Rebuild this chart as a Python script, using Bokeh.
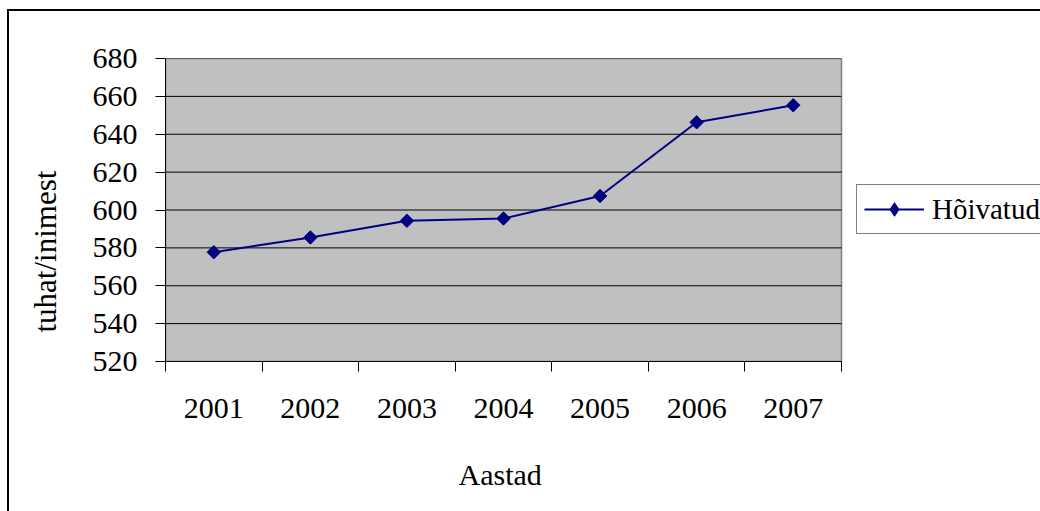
import math
from bokeh.plotting import figure
from bokeh.models import (Range1d, FixedTicker, Title, Legend, LegendItem, InlineStyleSheet)
from bokeh.embed import file_html
from bokeh.resources import INLINE

# Employed persons (thousands), Estonia
years = ["2001", "2002", "2003", "2004", "2005", "2006", "2007"]
employed = [577.7, 585.5, 594.3, 595.5, 607.4, 646.3, 655.3]
y_ticks = [520, 540, 560, 580, 600, 620, 640, 660, 680]
series_name = "Hõivatud"
x_title = "Aastad"
y_title = "tuhat/inimest"

FONT = "Liberation Serif"
FS = "30px"
NAVY = "#000080"
GREY = "#C0C0C0"

W, H = 1040, 511
LEFT, TOP, BOTTOM = 165, 58, 150
PLOT_W = 676          # width of the shaded plotting area in pixels

n = len(years)
# each year sits in the middle of its own unit-wide slot
xs = [i + 0.5 for i in range(n)]
# the frame runs to the right edge so the legend can sit beside the plot area
x_end = n * (W - LEFT) / PLOT_W

# thin black frame around the whole chart (left and top edges in view)
frame_css = InlineStyleSheet(css="""
:host::after {
  content: "";
  position: absolute;
  left: 7px;
  top: 9px;
  width: 1033px;
  height: 502px;
  box-sizing: border-box;
  border-left: 2px solid black;
  border-top: 2px solid black;
  pointer-events: none;
  z-index: 10;
}
""")

p = figure(width=W, height=H, output_backend="svg", toolbar_location=None,
           x_range=Range1d(0, x_end), y_range=Range1d(y_ticks[0], y_ticks[-1]),
           min_border_left=LEFT, min_border_right=0, min_border_top=TOP,
           min_border_bottom=BOTTOM, stylesheets=[frame_css])

p.background_fill_color = "white"
p.border_fill_color = "white"
p.outline_line_color = None

# shaded plotting area with grey edge
p.quad(left=0, right=n, bottom=y_ticks[0], top=y_ticks[-1],
       fill_color=GREY, line_color="#808080", line_width=1.5)
# horizontal gridlines across the plotting area only
p.segment(x0=[0] * len(y_ticks), x1=[n] * len(y_ticks), y0=y_ticks, y1=y_ticks,
          line_color="black", line_width=1)

# y axis
p.yaxis.ticker = FixedTicker(ticks=y_ticks)
p.yaxis.major_tick_out = 10
p.yaxis.major_tick_in = 0
p.yaxis.minor_tick_out = 0
p.yaxis.minor_tick_in = 0
p.yaxis.major_label_standoff = 18
p.yaxis.major_label_text_font = FONT
p.yaxis.major_label_text_font_size = FS
p.yaxis.major_label_text_color = "black"
p.yaxis.axis_line_color = "black"
p.yaxis.major_tick_line_color = "black"

# x axis: labels centred in slots, tick marks on slot boundaries
p.xaxis.bounds = (0, n)
p.xaxis.ticker = FixedTicker(ticks=xs, minor_ticks=list(range(n + 1)))
p.xaxis.major_label_overrides = {x: y for x, y in zip(xs, years)}
p.xaxis.major_tick_out = 10
p.xaxis.major_tick_in = 0
p.xaxis.major_tick_line_alpha = 0
p.xaxis.minor_tick_out = 10
p.xaxis.minor_tick_in = 0
p.xaxis.minor_tick_line_color = "black"
p.xaxis.major_label_standoff = 27
p.xaxis.major_label_text_font = FONT
p.xaxis.major_label_text_font_size = FS
p.xaxis.major_label_text_color = "black"
p.xaxis.axis_line_color = "black"

p.xgrid.visible = False
p.ygrid.visible = False

line_r = p.line(xs, employed, line_color=NAVY, line_width=2)
pts_r = p.scatter(xs, employed, marker="square", size=9.5, angle=math.pi / 4,
                  fill_color=NAVY, line_color=NAVY, line_width=1)
# diamond used for the legend swatch
key_r = p.scatter(xs, employed, marker="diamond", size=12,
                  fill_color=NAVY, line_color=NAVY, line_width=1, visible=False)

# y axis title, set a little below the middle of the axis
p.add_layout(Title(text=y_title, align="left", offset=29, vertical_align="top",
                   standoff=49, text_font=FONT, text_font_size="31px",
                   text_font_style="normal", text_color="black"), "left")

# x axis title under the year labels, centred on the plotting area
p.add_layout(Title(text=" ", standoff=0, text_font=FONT, text_font_size=FS), "below")
p.add_layout(Title(text=x_title, align="left", offset=293, vertical_align="top",
                   standoff=4, text_font=FONT, text_font_size=FS,
                   text_font_style="normal", text_color="black"), "below")

legend = Legend(items=[LegendItem(label=series_name, renderers=[line_r, key_r])],
                location=(856 - LEFT, 126.7), padding=7, margin=0, spacing=0,
                glyph_width=60, glyph_height=34, label_standoff=8,
                label_text_font=FONT, label_text_font_size="29px",
                label_text_color="black", label_text_baseline="alphabetic",
                border_line_color="black", border_line_width=1,
                background_fill_color="white", background_fill_alpha=1)
p.add_layout(legend, "center")

open("out.html", "w").write(file_html(p, INLINE))
